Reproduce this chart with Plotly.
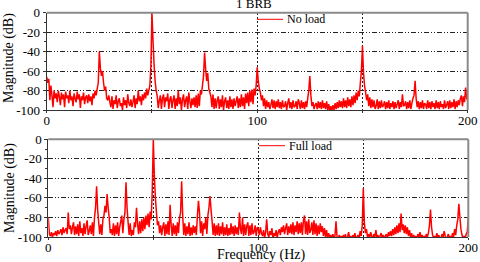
import plotly.graph_objects as go

# frequency grid (Hz), 0.5 Hz resolution
freq = [i * 0.5 for i in range(401)]

# No load spectrum (dB), 20 values per 10 Hz
no_load = [
    -66, -72, -68, -90, -75, -85, -97, -80, -88, -83, -92, -80, -86, -95, -82, -89, -84, -97, -81, -88,
    -85, -93, -80, -90, -86, -96, -83, -88, -92, -81, -89, -84, -98, -86, -90, -82, -94, -87, -85, -93,
    -84, -91, -86, -95, -83, -88, -80, -85, -78, -72, -40, -57, -65, -60, -72, -80, -76, -88, -90, -85,
    -92, -97, -86, -99, -90, -94, -85, -98, -91, -88, -96, -93, -100, -87, -95, -90, -98, -84, -93, -96,
    -89, -97, -92, -85, -98, -88, -94, -80, -91, -86, -95, -84, -90, -82, -88, -78, -85, -80, -75, -55,
    0, -28, -53, -70, -80, -86, -98, -90, -85, -99, -88, -84, -97, -87, -91, -83, -99, -89, -86, -98,
    -90, -85, -99, -88, -96, -80, -94, -87, -100, -89, -84, -97, -90, -86, -99, -82, -91, -98, -88, -95,
    -87, -97, -85, -98, -83, -96, -80, -84, -75, -65, -41, -58, -70, -62, -78, -82, -86, -97, -84, -99,
    -88, -98, -90, -86, -99, -89, -97, -85, -100, -91, -87, -98, -90, -99, -86, -97, -89, -99, -88, -96,
    -91, -86, -98, -88, -97, -84, -96, -87, -99, -83, -93, -82, -96, -80, -92, -79, -94, -78, -85, -75,
    -56, -70, -78, -82, -90, -85, -96, -88, -99, -90, -97, -92, -99, -95, -89, -98, -90, -99, -91, -97,
    -89, -98, -92, -99, -90, -97, -96, -91, -100, -93, -88, -98, -92, -99, -90, -97, -96, -91, -99, -89,
    -93, -99, -90, -98, -92, -99, -91, -97, -88, -80, -65, -85, -96, -92, -99, -95, -93, -99, -91, -98,
    -92, -99, -90, -98, -93, -99, -91, -100, -94, -101, -96, -101, -95, -100, -93, -99, -92, -98, -90, -97,
    -91, -98, -88, -97, -90, -98, -87, -96, -89, -97, -86, -95, -85, -93, -82, -90, -80, -86, -72, -60,
    -34, -62, -75, -82, -90, -84, -96, -87, -98, -89, -97, -90, -99, -96, -89, -99, -91, -98, -90, -97,
    -95, -91, -99, -92, -98, -90, -99, -93, -97, -91, -99, -92, -98, -94, -90, -99, -92, -97, -84, -96,
    -95, -91, -99, -92, -98, -90, -99, -93, -88, -85, -70, -88, -97, -91, -99, -92, -98, -90, -99, -93,
    -94, -99, -90, -98, -92, -99, -91, -97, -93, -99, -90, -98, -92, -99, -91, -97, -94, -99, -90, -98,
    -95, -91, -99, -90, -98, -92, -97, -89, -99, -91, -97, -90, -95, -88, -85, -96, -86, -92, -77, -88,
    -90,
]

# Full load spectrum (dB)
full_load = [
    -80, -97, -99, -95, -100, -96, -98, -94, -99, -93, -97, -95, -92, -98, -90, -96, -93, -91, -97, -75,
    -92, -88, -97, -90, -85, -98, -89, -97, -87, -99, -84, -96, -91, -99, -86, -97, -89, -83, -98, -94,
    -88, -97, -85, -99, -80, -70, -48, -72, -85, -97, -87, -98, -82, -78, -68, -75, -56, -70, -80, -96,
    -92, -98, -86, -99, -88, -97, -85, -99, -90, -84, -78, -96, -82, -75, -44, -70, -85, -98, -86, -99,
    -93, -98, -85, -90, -70, -86, -97, -84, -96, -82, -94, -80, -92, -78, -88, -76, -90, -74, -82, -53,
    0, -37, -60, -75, -88, -84, -96, -88, -98, -90, -85, -99, -87, -97, -84, -98, -67, -88, -99, -86,
    -97, -88, -99, -85, -96, -80, -75, -43, -78, -98, -86, -99, -89, -97, -85, -99, -90, -98, -88, -96,
    -89, -98, -78, -63, -75, -96, -84, -99, -86, -92, -80, -97, -78, -70, -58, -72, -84, -98, -86, -99,
    -88, -98, -86, -99, -89, -97, -85, -99, -90, -98, -87, -99, -91, -98, -86, -97, -89, -99, -88, -97,
    -90, -98, -75, -92, -97, -80, -99, -87, -98, -89, -85, -99, -88, -98, -86, -97, -95, -88, -99, -90,
    -92, -98, -90, -96, -99, -93, -101, -95, -82, -97, -100, -94, -98, -91, -102, -96, -99, -93, -101, -95,
    -92, -98, -90, -95, -88, -97, -91, -86, -98, -89, -96, -87, -97, -85, -98, -88, -95, -84, -97, -86,
    -96, -85, -98, -83, -78, -97, -84, -98, -82, -96, -93, -85, -98, -83, -97, -86, -99, -88, -97, -86,
    -95, -89, -99, -91, -100, -93, -101, -96, -100, -98, -102, -97, -101, -99, -84, -100, -103, -98, -101, -99,
    -102, -98, -101, -97, -103, -100, -95, -101, -99, -103, -98, -101, -96, -102, -100, -98, -101, -94, -99, -88,
    -50, -85, -96, -92, -100, -97, -101, -95, -99, -102, -97, -100, -93, -101, -98, -103, -99, -96, -101, -98,
    -102, -99, -97, -101, -95, -99, -94, -99, -92, -98, -90, -97, -88, -96, -86, -95, -76, -93, -87, -96,
    -88, -97, -90, -99, -93, -100, -96, -102, -98, -101, -99, -103, -97, -100, -95, -101, -98, -102, -99, -101,
    -97, -100, -96, -88, -72, -90, -98, -101, -99, -102, -96, -100, -98, -103, -101, -97, -100, -94, -99, -102,
    -100, -97, -101, -99, -102, -96, -100, -92, -98, -88, -82, -66, -80, -92, -98, -101, -99, -102, -97, -95,
    -80,
]

series_names = ["No load", "Full load"]
x_tick_vals = [0, 50, 100, 150, 200]
x_tick_text = ["0", "", "100", "", "200"]
y_tick_vals = [-100, -80, -60, -40, -20, 0]
y_tick_text = ["-100", "-80", "-60", "-40", "-20", "0"]

W, H = 480, 262
FONT = "Liberation Serif"
RED = "#ff0000"

fig = go.Figure()
fig.add_trace(go.Scatter(x=freq, y=no_load, mode="lines", name=series_names[0],
                         line=dict(color=RED, width=1.5, simplify=False),
                         xaxis="x", yaxis="y", showlegend=False))
fig.add_trace(go.Scatter(x=freq, y=full_load, mode="lines", name=series_names[1],
                         line=dict(color=RED, width=1.5, simplify=False),
                         xaxis="x2", yaxis="y2", showlegend=False))

def px_x(p):
    return p / W

def px_y(p):
    return 1 - p / H

xcommon = dict(range=[0, 200], tickvals=x_tick_vals, ticktext=x_tick_text,
               showgrid=True, gridcolor="#222", griddash="2px,2px", gridwidth=1,
               showline=True, linecolor="#333", linewidth=1, mirror=False,
               ticks="outside", ticklen=2, tickcolor="#333", automargin=False,
               ticklabelstandoff=-4,
               tickfont=dict(family=FONT, size=13, color="black"), zeroline=False)
ycommon = dict(range=[-100, 0], tickvals=y_tick_vals, ticktext=y_tick_text,
               showgrid=True, gridcolor="#222", griddash="5px,2px,1px,2px,1px,2px", gridwidth=1,
               showline=True, linecolor="#333", linewidth=1, mirror=False,
               ticks="outside", ticklen=3, tickcolor="#333", automargin=False,
               minor=dict(dtick=10, ticks="outside", ticklen=2, tickcolor="#333", showgrid=False),
               tickfont=dict(family=FONT, size=13, color="black"), zeroline=False)

fig.update_layout(
    width=W, height=H, margin=dict(l=0, r=0, t=0, b=0, autoexpand=False),
    paper_bgcolor="white", plot_bgcolor="white", showlegend=False,
    xaxis=dict(domain=[px_x(46.7), px_x(467.7)], anchor="y", **xcommon),
    yaxis=dict(domain=[px_y(110), px_y(12.7)], anchor="x", **ycommon),
    xaxis2=dict(domain=[px_x(48.3), px_x(468.3)], anchor="y2", **xcommon),
    yaxis2=dict(domain=[px_y(237), px_y(139.3)], anchor="x2", **ycommon),
)

shapes = []
for xr, yr in (("x", "y"), ("x2", "y2")):
    shapes.append(dict(type="line", xref=f"{xr} domain", yref=f"{yr} domain",
                       x0=0, x1=1, y0=1, y1=1, line=dict(color="#8a8a8a", width=2)))
    shapes.append(dict(type="line", xref=f"{xr} domain", yref=f"{yr} domain",
                       x0=1, x1=1, y0=0, y1=1, line=dict(color="#8a8a8a", width=2)))
# legend keys
shapes.append(dict(type="line", xref="paper", yref="paper",
                   x0=px_x(257), x1=px_x(283), y0=px_y(19.3), y1=px_y(19.3),
                   line=dict(color=RED, width=1)))
shapes.append(dict(type="line", xref="paper", yref="paper",
                   x0=px_x(259), x1=px_x(285), y0=px_y(145.7), y1=px_y(145.7),
                   line=dict(color=RED, width=1)))
fig.update_layout(shapes=shapes)

ann = [
    dict(text=series_names[0], x=px_x(285), y=px_y(19), xref="paper", yref="paper",
         xanchor="left", yanchor="middle", showarrow=False,
         font=dict(family=FONT, size=12, color="black")),
    dict(text=series_names[1], x=px_x(287), y=px_y(145.5), xref="paper", yref="paper",
         xanchor="left", yanchor="middle", showarrow=False,
         font=dict(family=FONT, size=12, color="black")),
    dict(text="1 BRB", x=px_x(254), y=px_y(13), xref="paper", yref="paper",
         xanchor="center", yanchor="bottom", showarrow=False,
         font=dict(family=FONT, size=13, color="black")),
    dict(text="Magnitude (dB)", x=px_x(9), y=px_y(58), xref="paper", yref="paper",
         xanchor="center", yanchor="middle", textangle=-90, showarrow=False,
         font=dict(family=FONT, size=14, color="black")),
    dict(text="Magnitude (dB)", x=px_x(10), y=px_y(188), xref="paper", yref="paper",
         xanchor="center", yanchor="middle", textangle=-90, showarrow=False,
         font=dict(family=FONT, size=14, color="black")),
    dict(text="Frequency (Hz)", x=px_x(261), y=px_y(255), xref="paper", yref="paper",
         xanchor="center", yanchor="middle", showarrow=False,
         font=dict(family=FONT, size=14, color="black")),
]
fig.update_layout(annotations=ann)

fig.write_html("out.html", config={"displayModeBar": False},
               post_script="document.body.style.margin='0';document.body.style.overflow='hidden';")
